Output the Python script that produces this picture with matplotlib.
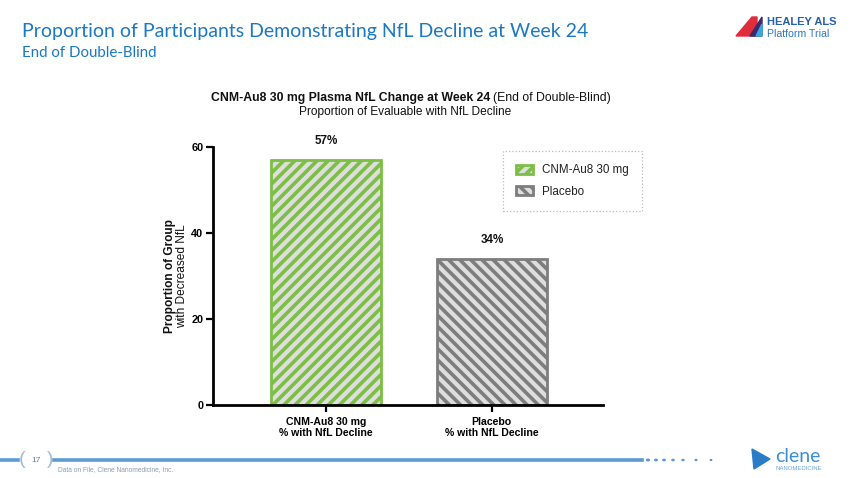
import numpy as np
import matplotlib.pyplot as plt
from matplotlib.patches import Polygon, Circle
from matplotlib.lines import Line2D

# data
groups = ['CNM-Au8 30 mg\n% with NfL Decline', 'Placebo\n% with NfL Decline']
legend_names = ['CNM-Au8 30 mg', 'Placebo']
values = [57, 34]
value_labels = ['57%', '34%']
yticks = [0, 20, 40, 60]

green = '#7cbf44'
grey = '#7d7d7d'
face = '#dedede'
blue = '#1b78c2'

plt.rcParams['font.family'] = ['Liberation Sans', 'DejaVu Sans']
plt.rcParams['hatch.linewidth'] = 2.6

W, H = 850, 478
fig = plt.figure(figsize=(8.5, 4.78), dpi=100)

def fx(x):
    return x / W

def fy(y):
    return 1 - y / H

# header
fig.text(fx(22), fy(32), 'Proportion of Participants Demonstrating NfL Decline at Week 24',
         fontsize=14.0, color=blue, family='Lato', va='center', ha='left')
fig.text(fx(22), fy(53), 'End of Double-Blind', fontsize=10.8, color=blue,
         family='Lato', va='center', ha='left')

# chart titles
t1 = fig.text(fx(211), fy(98), 'CNM-Au8 30 mg Plasma NfL Change at Week 24', fontsize=8.8,
              weight='bold', va='center', ha='left', color='#111111')
r = fig.canvas.get_renderer()
bb = t1.get_window_extent(r)
fig.text(bb.x1 / W + fx(3), fy(98), '(End of Double-Blind)', fontsize=8.8, va='center',
         ha='left', color='#111111')
fig.text(fx(405), fy(112), 'Proportion of Evaluable with NfL Decline', fontsize=8.6,
         va='center', ha='center', color='#111111')

# axes
ax = fig.add_axes([fx(213), fy(405), fx(603) - fx(213), fy(147) - fy(405)])
x = np.arange(len(values))
cols = [green, grey]
hatches = ['///', '\\\\\\']
bars = []
for i in range(len(values)):
    b = ax.bar(x[i], values[i], width=0.66, color=face, edgecolor=cols[i],
               hatch=hatches[i], linewidth=2.0, zorder=2)
    bars.append(b)
    ax.text(x[i], values[i] + 3, value_labels[i], ha='center', va='bottom',
            fontsize=8.4, weight='bold', color='#111111')

ax.set_xlim(-0.68, 1.67)
ax.set_ylim(0, 60)
ax.set_yticks(yticks)
ax.set_xticks(x)
ax.set_xticklabels(groups, fontsize=7.6, weight='bold', linespacing=1.2)
ax.tick_params(axis='y', labelsize=7.8, width=1.6, length=5, pad=2)
ax.tick_params(axis='x', width=1.6, length=5)
for lab in ax.get_yticklabels():
    lab.set_fontweight('bold')
for s in ['top', 'right']:
    ax.spines[s].set_visible(False)
for s in ['left', 'bottom']:
    ax.spines[s].set_linewidth(2.0)
ax.patch.set_alpha(0)

fig.text(fx(170), fy(276), 'Proportion of Group', rotation=90, fontsize=8.6,
         weight='bold', va='center', ha='center', color='#111111')
fig.text(fx(182), fy(276), 'with Decreased NfL', rotation=90, fontsize=8.6,
         va='center', ha='center', color='#111111')

# legend
leg = ax.legend([b[0] for b in bars], legend_names, loc='upper left',
                bbox_to_anchor=((503 - 213) / 390, (405 - 151) / 258),
                fontsize=8.4, frameon=True, handlelength=1.4, handleheight=0.8,
                borderpad=1.15, labelspacing=0.8, handletextpad=0.8, borderaxespad=0,
                fancybox=False)
leg.get_frame().set_edgecolor('#aaaaaa')
leg.get_frame().set_linestyle(':')
leg.get_frame().set_linewidth(0.9)
for t in leg.get_texts():
    t.set_color('#222222')

# footer
fig.add_artist(Line2D([0, fx(18)], [fy(460), fy(460)], color='#5b9bd5', lw=2.6))
fig.add_artist(Line2D([fx(54), fx(642)], [fy(460), fy(460)], color='#5b9bd5', lw=2.6))
fig.text(fx(22), fy(460), '(', fontsize=14, color='#9fb9d6', va='center', ha='center')
fig.text(fx(50), fy(460), ')', fontsize=14, color='#9fb9d6', va='center', ha='center')
fig.text(fx(36), fy(460), '17', fontsize=6, color='#5b7ea8', va='center', ha='center')
dots_x = [648, 656, 664, 673, 683, 696, 711]
dots_r = [1.4, 1.3, 1.2, 1.1, 1.0, 0.9, 0.7]
for dx, dr in zip(dots_x, dots_r):
    fig.add_artist(Circle((fx(dx), fy(460)), dr / W, color='#5b9bd5', transform=fig.transFigure))
fig.text(fx(58), fy(470), 'Data on File, Clene Nanomedicine, Inc.', fontsize=4.8,
         color='#8b9bb0', va='center', ha='left')

# clene logo
fig.add_artist(Polygon([[fx(752), fy(449)], [fx(770), fy(459)], [fx(754), fy(469)]],
                       closed=True, color='#2a7cc7', transform=fig.transFigure))
fig.text(fx(775), fy(456), 'clene', fontsize=14, color='#3b8fd6', va='center', ha='left',
         family='Lato')
fig.text(fx(776), fy(468), 'NANOMEDICINE', fontsize=4.3, color='#6aa4d8', va='center',
         ha='left')

# HEALEY logo
fig.add_artist(Polygon([[fx(736), fy(36)], [fx(752), fy(17)], [fx(757), fy(17)], [fx(757), fy(36)]],
                       closed=True, color='#e02d3c', transform=fig.transFigure))
fig.add_artist(Polygon([[fx(750), fy(36)], [fx(762), fy(17)], [fx(762), fy(36)]],
                       closed=True, color='#3b2a6e', transform=fig.transFigure))
fig.add_artist(Polygon([[fx(756), fy(36)], [fx(762), fy(24)], [fx(762), fy(36)]],
                       closed=True, color='#35a9e0', transform=fig.transFigure))
fig.text(fx(767), fy(22), 'HEALEY ALS', fontsize=8, weight='bold', color='#2560a8',
         va='center', ha='left')
fig.text(fx(767), fy(34), 'Platform Trial', fontsize=7.6, color='#2a78c4',
         va='center', ha='left')

fig.savefig('out.png', dpi=100)
